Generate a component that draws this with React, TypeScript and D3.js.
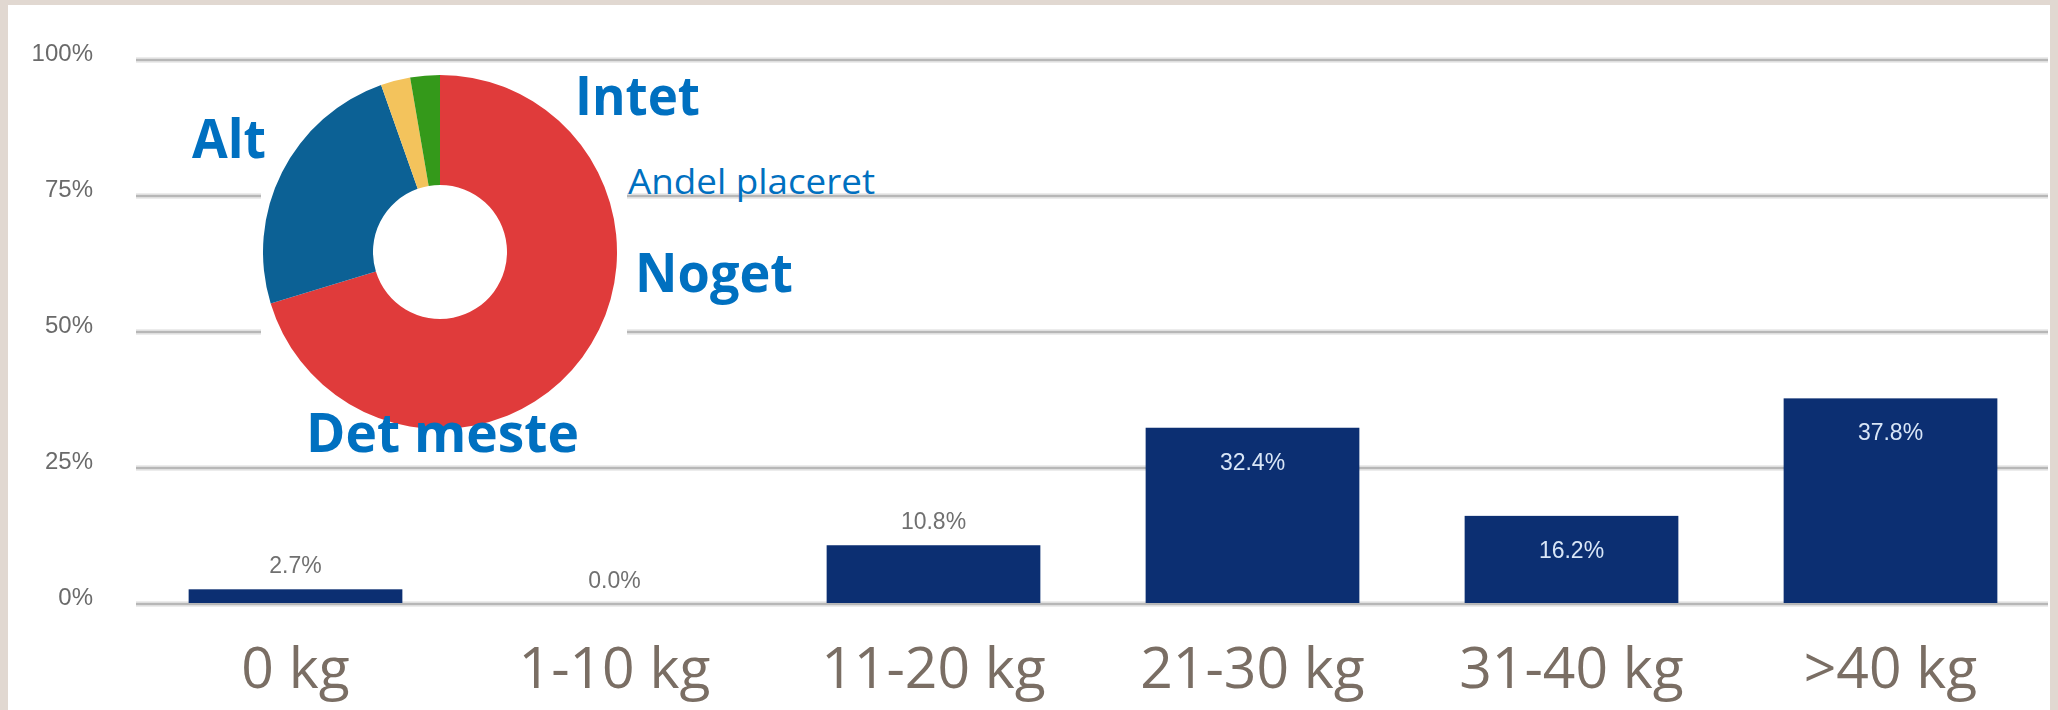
import React, { useEffect, useRef } from "react";
import * as d3 from "d3";

// bar chart data
const categories = ["0 kg", "1-10 kg", "11-20 kg", "21-30 kg", "31-40 kg", ">40 kg"];
const shares = [2.7, 0.0, 10.8, 32.4, 16.2, 37.8];
const yTicks = [0, 25, 50, 75, 100];

// donut ("Andel placeret")
const pieNames = ["Det meste", "Alt", "Noget", "Intet"];
const pieValues = [70.3, 24.3, 2.7, 2.7];
const pieColors = ["#e03b3b", "#0c6195", "#f3c35c", "#34991a"];

const W = 2058;
const H = 710;

function App() {
  const ref = useRef<SVGSVGElement>(null);

  useEffect(() => {
    const svg = d3.select(ref.current);
    svg.selectAll("*").remove();

    // frame
    svg.append("rect").attr("width", W).attr("height", H).attr("fill", "#e1d8d1");
    svg.append("rect").attr("x", 8).attr("y", 5).attr("width", 2042).attr("height", H - 5).attr("fill", "#ffffff");

    const defs = svg.append("defs");
    defs.append("filter").attr("id", "soft")
      .append("feGaussianBlur").attr("stdDeviation", 0.6);

    const x = d3.scaleBand()
      .domain(categories)
      .range([136, 2050])
      .paddingInner(0.33)
      .paddingOuter(0.165);

    const y = d3.scaleLinear()
      .domain([0, 100])
      .range([604, 60]);

    // gridlines
    const grid = svg.append("g").attr("filter", "url(#soft)");
    grid.selectAll("line.halo")
      .data(yTicks)
      .join("line")
      .attr("class", "halo")
      .attr("x1", 136).attr("x2", 2048)
      .attr("y1", d => y(d)).attr("y2", d => y(d))
      .attr("stroke", "#ececec")
      .attr("stroke-width", 6);
    grid.selectAll("line.main")
      .data(yTicks)
      .join("line")
      .attr("class", "main")
      .attr("x1", 136).attr("x2", 2048)
      .attr("y1", d => y(d)).attr("y2", d => y(d))
      .attr("stroke", "#b7b7b7")
      .attr("stroke-width", 2.5);

    // y tick labels
    svg.append("g")
      .attr("filter", "url(#soft)")
      .selectAll("text")
      .data(yTicks)
      .join("text")
      .attr("x", 93)
      .attr("y", d => y(d) - 7)
      .attr("dy", "0.35em")
      .attr("text-anchor", "end")
      .attr("font-family", "Liberation Sans, Arial, sans-serif")
      .attr("font-size", 24)
      .attr("fill", "#6a6a6a")
      .text(d => d + "%");

    // bars
    svg.append("g")
      .selectAll("rect")
      .data(shares)
      .join("rect")
      .attr("x", (d, i) => x(categories[i]) as number)
      .attr("y", d => y(d))
      .attr("width", x.bandwidth())
      .attr("height", d => y(0) - y(d) - 1)
      .attr("fill", "#0c2f72");

    // value labels
    svg.append("g")
      .attr("filter", "url(#soft)")
      .selectAll("text")
      .data(shares)
      .join("text")
      .attr("x", (d, i) => (x(categories[i]) as number) + x.bandwidth() / 2)
      .attr("y", d => d > 15 ? y(d) + 34 : y(d) - 24)
      .attr("dy", "0.35em")
      .attr("text-anchor", "middle")
      .attr("font-family", "Liberation Sans, Arial, sans-serif")
      .attr("font-size", 23)
      .attr("fill", d => d > 15 ? "#d9e6f7" : "#707070")
      .text(d => d.toFixed(1) + "%");

    // category labels
    svg.append("g")
      .selectAll("text")
      .data(categories)
      .join("text")
      .attr("x", d => (x(d) as number) + x.bandwidth() / 2)
      .attr("y", 688)
      .attr("text-anchor", "middle")
      .attr("font-family", "Open Sans, sans-serif")
      .attr("font-size", 57)
      .attr("fill", "#7a6e64")
      .text(d => d);

    // donut inset with its white box
    svg.append("rect")
      .attr("x", 261).attr("y", 66)
      .attr("width", 366).attr("height", 380)
      .attr("fill", "#ffffff");

    const pie = d3.pie<number>().sort(null).value(d => d);
    const arc = d3.arc<d3.PieArcDatum<number>>().innerRadius(67).outerRadius(177);

    svg.append("g")
      .attr("transform", "translate(440,252)")
      .selectAll("path")
      .data(pie(pieValues))
      .join("path")
      .attr("d", arc)
      .attr("fill", (d, i) => pieColors[i]);

    // donut labels
    const labels = [
      { text: pieNames[3], x: 575, y: 115, size: 54, weight: 700, len: 125 },
      { text: pieNames[1], x: 192, y: 158, size: 54, weight: 700, len: 74 },
      { text: "Andel placeret", x: 628, y: 194, size: 35, weight: 400, len: 247 },
      { text: pieNames[2], x: 635, y: 292, size: 54, weight: 700, len: 158 },
      { text: pieNames[0], x: 306, y: 452, size: 54, weight: 700, len: 273 },
    ];
    svg.append("g")
      .selectAll("text")
      .data(labels)
      .join("text")
      .attr("x", d => d.x)
      .attr("y", d => d.y)
      .attr("font-family", "Open Sans, sans-serif")
      .attr("font-size", d => d.size)
      .attr("font-weight", d => d.weight)
      .attr("textLength", d => d.len)
      .attr("lengthAdjust", "spacingAndGlyphs")
      .attr("fill", "#0070c0")
      .text(d => d.text);
  }, []);

  return (
    <svg
      ref={ref}
      width={W}
      height={H}
      style={{ position: "absolute", left: 0, top: 0, display: "block" }}
    />
  );
}

export default App;
